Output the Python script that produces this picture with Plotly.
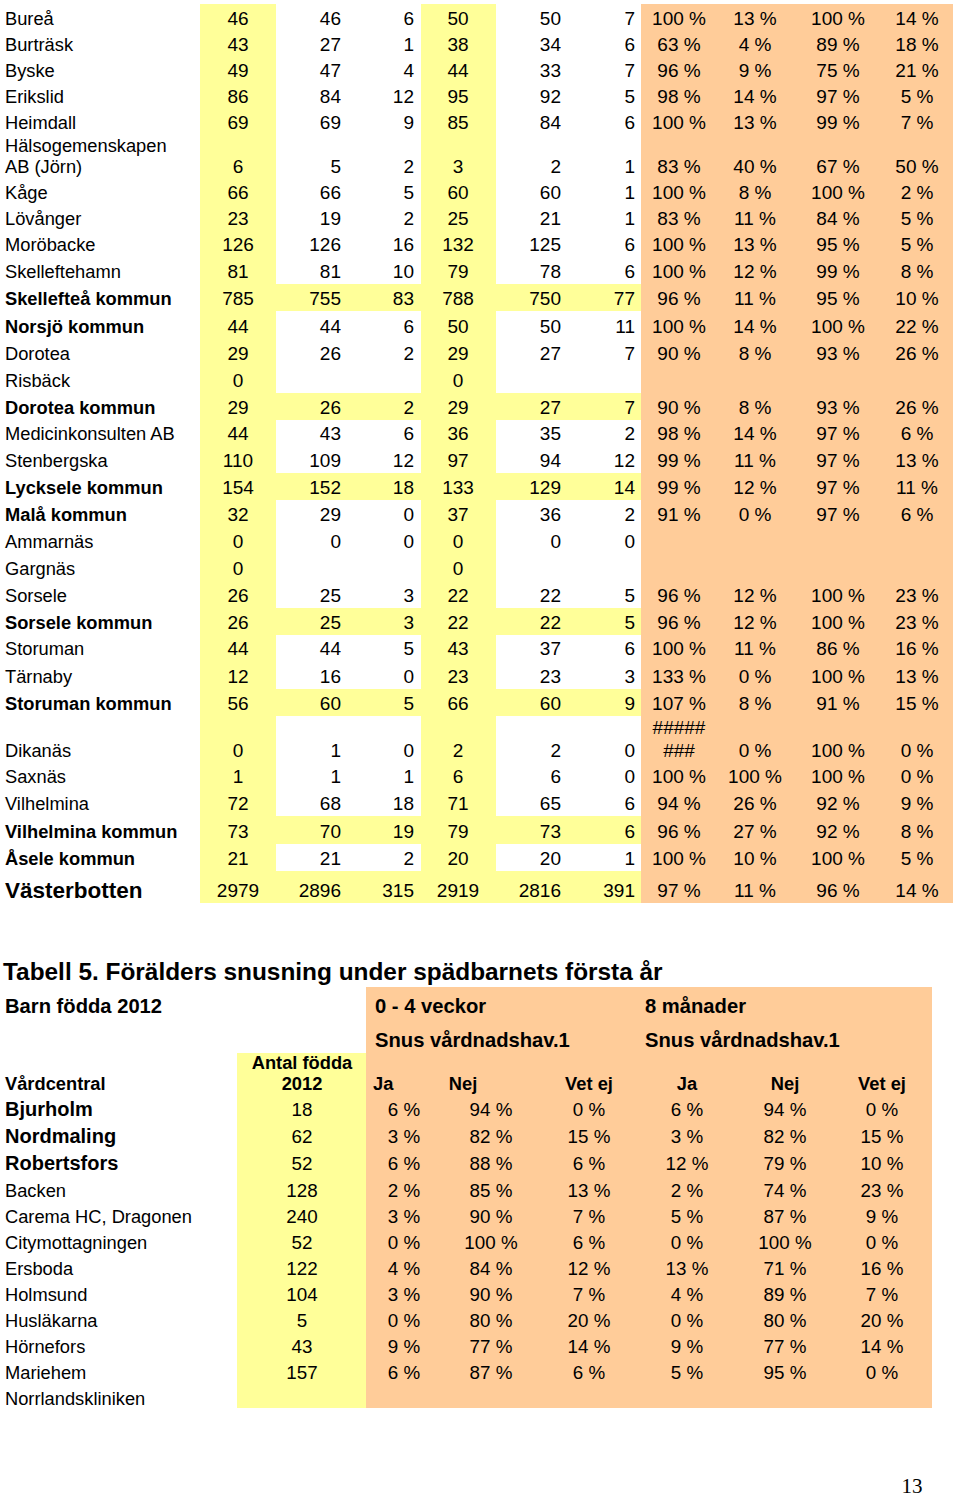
import plotly.graph_objects as go

# ------------------------------------------------------------------
# Table 4 (upper table) – data
# ------------------------------------------------------------------
t1_names = [
    "Bureå", "Burträsk", "Byske", "Erikslid", "Heimdall",
    "Hälsogemenskapen\nAB (Jörn)", "Kåge", "Lövånger", "Moröbacke", "Skelleftehamn",
    "Skellefteå kommun", "Norsjö kommun", "Dorotea", "Risbäck", "Dorotea kommun",
    "Medicinkonsulten AB", "Stenbergska", "Lycksele kommun", "Malå kommun", "Ammarnäs",
    "Gargnäs", "Sorsele", "Sorsele kommun", "Storuman", "Tärnaby",
    "Storuman kommun", "Dikanäs", "Saxnäs", "Vilhelmina", "Vilhelmina kommun",
    "Åsele kommun", "Västerbotten",
]
t1_col1 = [46, 43, 49, 86, 69, 6, 66, 23, 126, 81, 785, 44, 29, 0, 29, 44, 110, 154, 32, 0,
           0, 26, 26, 44, 12, 56, 0, 1, 72, 73, 21, 2979]
t1_col2 = [46, 27, 47, 84, 69, 5, 66, 19, 126, 81, 755, 44, 26, None, 26, 43, 109, 152, 29, 0,
           None, 25, 25, 44, 16, 60, 1, 1, 68, 70, 21, 2896]
t1_col3 = [6, 1, 4, 12, 9, 2, 5, 2, 16, 10, 83, 6, 2, None, 2, 6, 12, 18, 0, 0,
           None, 3, 3, 5, 0, 5, 0, 1, 18, 19, 2, 315]
t1_col4 = [50, 38, 44, 95, 85, 3, 60, 25, 132, 79, 788, 50, 29, 0, 29, 36, 97, 133, 37, 0,
           0, 22, 22, 43, 23, 66, 2, 6, 71, 79, 20, 2919]
t1_col5 = [50, 34, 33, 92, 84, 2, 60, 21, 125, 78, 750, 50, 27, None, 27, 35, 94, 129, 36, 0,
           None, 22, 22, 37, 23, 60, 2, 6, 65, 73, 20, 2816]
t1_col6 = [7, 6, 7, 5, 6, 1, 1, 1, 6, 6, 77, 11, 7, None, 7, 2, 12, 14, 2, 0,
           None, 5, 5, 6, 3, 9, 0, 0, 6, 6, 1, 391]
t1_pct1 = ["100 %", "63 %", "96 %", "98 %", "100 %", "83 %", "100 %", "83 %", "100 %", "100 %",
           "96 %", "100 %", "90 %", "", "90 %", "98 %", "99 %", "99 %", "91 %", "",
           "", "96 %", "96 %", "100 %", "133 %", "107 %", "#####\n###", "100 %", "94 %", "96 %",
           "100 %", "97 %"]
t1_pct2 = ["13 %", "4 %", "9 %", "14 %", "13 %", "40 %", "8 %", "11 %", "13 %", "12 %",
           "11 %", "14 %", "8 %", "", "8 %", "14 %", "11 %", "12 %", "0 %", "",
           "", "12 %", "12 %", "11 %", "0 %", "8 %", "0 %", "100 %", "26 %", "27 %",
           "10 %", "11 %"]
t1_pct3 = ["100 %", "89 %", "75 %", "97 %", "99 %", "67 %", "100 %", "84 %", "95 %", "99 %",
           "95 %", "100 %", "93 %", "", "93 %", "97 %", "97 %", "97 %", "97 %", "",
           "", "100 %", "100 %", "86 %", "100 %", "91 %", "100 %", "100 %", "92 %", "92 %",
           "100 %", "96 %"]
t1_pct4 = ["14 %", "18 %", "21 %", "5 %", "7 %", "50 %", "2 %", "5 %", "5 %", "8 %",
           "10 %", "22 %", "26 %", "", "26 %", "6 %", "13 %", "11 %", "6 %", "",
           "", "23 %", "23 %", "16 %", "13 %", "15 %", "0 %", "0 %", "9 %", "8 %",
           "5 %", "14 %"]
# rows that are shaded yellow across all number columns
t1_summary = ["Skellefteå kommun", "Dorotea kommun", "Lycksele kommun", "Sorsele kommun",
              "Storuman kommun", "Vilhelmina kommun", "Västerbotten"]

# ------------------------------------------------------------------
# Table 5 (lower table) – data
# ------------------------------------------------------------------
t2_title = "Tabell 5. Förälders snusning under spädbarnets första år"
t2_headers = ["Barn födda 2012", "0 - 4 veckor", "8 månader", "Snus vårdnadshav.1",
              "Snus vårdnadshav.1", "Antal födda", "2012", "Vårdcentral",
              "Ja", "Nej", "Vet ej", "Ja", "Nej", "Vet ej"]
t2_names = ["Bjurholm", "Nordmaling", "Robertsfors", "Backen", "Carema HC, Dragonen",
            "Citymottagningen", "Ersboda", "Holmsund", "Husläkarna", "Hörnefors",
            "Mariehem", "Norrlandskliniken"]
t2_bold = ["Bjurholm", "Nordmaling", "Robertsfors"]
t2_born = [18, 62, 52, 128, 240, 52, 122, 104, 5, 43, 157, None]
t2_ja_w = ["6 %", "3 %", "6 %", "2 %", "3 %", "0 %", "4 %", "3 %", "0 %", "9 %", "6 %", ""]
t2_nej_w = ["94 %", "82 %", "88 %", "85 %", "90 %", "100 %", "84 %", "90 %", "80 %", "77 %", "87 %", ""]
t2_vet_w = ["0 %", "15 %", "6 %", "13 %", "7 %", "6 %", "12 %", "7 %", "20 %", "14 %", "6 %", ""]
t2_ja_m = ["6 %", "3 %", "12 %", "2 %", "5 %", "0 %", "13 %", "4 %", "0 %", "9 %", "5 %", ""]
t2_nej_m = ["94 %", "82 %", "79 %", "74 %", "87 %", "100 %", "71 %", "89 %", "80 %", "77 %", "95 %", ""]
t2_vet_m = ["0 %", "15 %", "10 %", "23 %", "9 %", "0 %", "16 %", "7 %", "20 %", "14 %", "0 %", ""]

page_number = "13"

# ------------------------------------------------------------------
# Layout / styling
# ------------------------------------------------------------------
W, H = 960, 1500
FONT = "Arial, 'Liberation Sans', sans-serif"
SERIF = "'Times New Roman', 'Liberation Serif', serif"
YELLOW = "#FFFF99"
ORANGE = "#FFCC99"
Y_SHIFT = 2  # Plotly's "middle" text sits slightly high; nudge down

fig = go.Figure()
shapes = []


def rect(x0, x1, y0, y1, color):
    shapes.append(dict(type="rect", xref="x", yref="y", x0=x0, x1=x1, y0=y0, y1=y1,
                       fillcolor=color, line=dict(width=0), layer="below"))


def add_text(xs, ys, texts, pos, sizes, family=FONT):
    fig.add_trace(go.Scatter(
        x=xs, y=[y + Y_SHIFT for y in ys], text=texts, mode="text", textposition=pos,
        textfont=dict(family=family, size=sizes, color="black"),
        hoverinfo="skip", showlegend=False, cliponaxis=False))


def fmt(v):
    return "" if v is None else str(v)


def expand_lines(x, ys, texts, gap):
    """Split multi-line cell texts into separate lines stacked upward."""
    xo, yo, to = [], [], []
    for y, t in zip(ys, texts):
        lines = t.split("\n")
        n = len(lines)
        for k, ln in enumerate(lines):
            xo.append(x)
            yo.append(y - (n - 1 - k) * gap)
            to.append(ln)
    return xo, yo, to


# ---------------- upper table geometry ----------------
t1_row_h = [26, 26, 26, 26, 26, 44, 26, 26, 26, 27, 27, 28, 27, 27, 27, 26, 27, 27, 27, 27,
            27, 27, 27, 26, 28, 27, 47, 26, 27, 28, 27, 32]
t1_top0 = 5
tops, bots = [], []
cur = t1_top0
for h in t1_row_h:
    tops.append(cur)
    cur += h
    bots.append(cur)
t1_y = [b - 12.5 for b in bots]
t1_bottom = bots[-1]

rect(200, 276, 4, t1_bottom, YELLOW)
rect(421, 496, 4, t1_bottom, YELLOW)
rect(641, 953, 4, t1_bottom, ORANGE)
for i, nm in enumerate(t1_names):
    if nm in t1_summary:
        rect(200, 641, tops[i], bots[i], YELLOW)

# names
nx, ny, nt, ns = [], [], [], []
for y, nm in zip(t1_y, t1_names):
    lines = nm.split("\n")
    bold = nm.endswith("kommun") or nm == "Västerbotten"
    size = 22.5 if nm == "Västerbotten" else 18.3
    for k, ln in enumerate(lines):
        nx.append(5)
        ny.append(y - (len(lines) - 1 - k) * 21)
        nt.append(f"<b>{ln}</b>" if bold else ln)
        ns.append(size)
add_text(nx, ny, nt, "middle right", ns)

NUM = 19
add_text([238] * len(t1_y), t1_y, [fmt(v) for v in t1_col1], "middle center", NUM)
add_text([341] * len(t1_y), t1_y, [fmt(v) for v in t1_col2], "middle left", NUM)
add_text([414] * len(t1_y), t1_y, [fmt(v) for v in t1_col3], "middle left", NUM)
add_text([458] * len(t1_y), t1_y, [fmt(v) for v in t1_col4], "middle center", NUM)
add_text([561] * len(t1_y), t1_y, [fmt(v) for v in t1_col5], "middle left", NUM)
add_text([635] * len(t1_y), t1_y, [fmt(v) for v in t1_col6], "middle left", NUM)
for cx, col in zip([679, 755, 838, 917], [t1_pct1, t1_pct2, t1_pct3, t1_pct4]):
    xs, ys, ts = expand_lines(cx, t1_y, col, 23)
    add_text(xs, ys, ts, "middle center", NUM)

# ---------------- lower table geometry ----------------
rect(366, 932, 987, 1408, ORANGE)
rect(237, 366, 1053, 1408, YELLOW)

add_text([3], [972], [f"<b>{t2_title}</b>"], "middle right", 24.4)

hdr_x = [5, 375, 645, 375, 645, 302, 302, 5, 373, 463, 589, 687, 785, 882]
hdr_y = [1006, 1006, 1006, 1040, 1040, 1062, 1083, 1083, 1083, 1083, 1083, 1083, 1083, 1083]
hdr_pos = ["middle right"] * 5 + ["middle center"] * 2 + ["middle right"] * 2 + ["middle center"] * 5
hdr_size = [20.2, 20.2, 20.2, 20.2, 20.2, 18.3, 18.3, 18.3, 18.3, 18.3, 18.3, 18.3, 18.3, 18.3]
for x, y, t, p, s in zip(hdr_x, hdr_y, t2_headers, hdr_pos, hdr_size):
    add_text([x], [y], [f"<b>{t}</b>"], p, s)

t2_row_h = [26, 27, 27, 27, 26, 26, 26, 26, 26, 26, 26, 26]
t2_y = []
cur = 1096
for h in t2_row_h:
    cur += h
    t2_y.append(cur - 13)

add_text([5] * len(t2_y), t2_y,
         [f"<b>{n}</b>" if n in t2_bold else n for n in t2_names], "middle right",
         [20 if n in t2_bold else 18.3 for n in t2_names])
NUM2 = 18.8
add_text([302] * len(t2_y), t2_y, [fmt(v) for v in t2_born], "middle center", NUM2)
for cx, col in zip([404, 491, 589, 687, 785, 882],
                   [t2_ja_w, t2_nej_w, t2_vet_w, t2_ja_m, t2_nej_m, t2_vet_m]):
    add_text([cx] * len(t2_y), t2_y, col, "middle center", NUM2)

add_text([912], [1486], [page_number], "middle center", 21, family=SERIF)

fig.update_layout(
    width=W, height=H, autosize=False,
    margin=dict(l=0, r=0, t=0, b=0, pad=0),
    paper_bgcolor="white", plot_bgcolor="white",
    xaxis=dict(range=[0, W], visible=False, fixedrange=True),
    yaxis=dict(range=[H, 0], visible=False, fixedrange=True),
    shapes=shapes, showlegend=False, hovermode=False,
)

fig.write_html("out.html", config={"displayModeBar": False},
               post_script="document.body.style.margin='0';")
